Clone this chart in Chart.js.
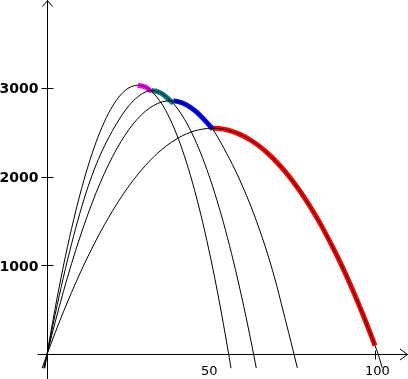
<!DOCTYPE html>
<html><head><meta charset="utf-8">
<script src="https://cdn.jsdelivr.net/npm/chart.js@4"></script>
<style>html,body{margin:0;padding:0;background:#fff;overflow:hidden}canvas{display:block}</style>
</head><body>
<canvas id="c" width="408" height="379" style="width:408px;height:379px"></canvas>
<script>
// Trajectory A (highest)
const xA = [-0.7, 0, 2.5, 5, 7.5, 10, 12.5, 15, 17.5, 20, 22.5, 25, 27.7, 30, 31.9, 35, 37.5, 40, 42.5, 45, 47.5, 50, 52.5, 55, 56.1];
const yA = [-155, 0, 523, 997, 1421, 1796, 2121, 2397, 2623, 2800, 2928, 3006, 3035, 3014, 2965, 2824, 2655, 2436, 2168, 1851, 1484, 1068, 602, 87, -155];
// Trajectory B
const xB = [-0.85, 0, 2.5, 5, 7.5, 10, 12.5, 15, 17.5, 20, 22.5, 25, 27.5, 30, 31.9, 33, 35, 38.5, 42, 45, 47.5, 50, 52.5, 55, 57.5, 60, 62.5, 63, 63.8];
const yB = [-155, 0, 454, 870, 1249, 1590, 1890, 2140, 2349, 2525, 2679, 2805, 2899, 2958, 2975, 2970, 2940, 2830, 2646, 2430, 2209, 1950, 1654, 1320, 949, 540, 94, 0, -153];
// Trajectory C
const xC = [-1.0, 0, 2.5, 5, 7.5, 10, 12.5, 15, 17.5, 20, 22.5, 25, 27.5, 30, 32.5, 35, 37.65, 38.5, 40, 42.5, 45, 47.5, 50.5, 53.8, 56.5, 58.8, 62.9, 66.5, 69.5, 72, 75.3, 76.3];
const yC = [-154, 0, 367, 709, 1026, 1317, 1584, 1825, 2041, 2232, 2397, 2537, 2652, 2742, 2806, 2846, 2860, 2858, 2849, 2813, 2751, 2664, 2540, 2334, 2143, 1965, 1600, 1220, 850, 490, 5, -150];
// Trajectory D (longest)
const xD = [-1.5, 0, 2.5, 5, 7.5, 10, 12.5, 15, 17.5, 20, 22.5, 25, 27.5, 30, 32.5, 35, 37.5, 40, 42.5, 45, 47.5, 50.5, 52.5, 55, 57.5, 60, 62.5, 65, 67.5, 70, 72.5, 75, 77.5, 80, 82.5, 85, 87.5, 90, 92.5, 95, 97.5, 100, 101, 102.2];
const yD = [-154, 0, 246, 480, 701, 910, 1106, 1290, 1461, 1620, 1766, 1900, 2021, 2130, 2226, 2310, 2381, 2440, 2486, 2520, 2541, 2550, 2546, 2530, 2501, 2460, 2406, 2340, 2261, 2170, 2066, 1950, 1821, 1680, 1526, 1360, 1181, 990, 786, 570, 341, 100, 0, -150];
// Upper envelope pieces (x ranges on A, B, C, D)
const envelopeFrom = [27.7, 31.9, 38.5, 50.5];
const envelopeTo   = [31.9, 38.5, 50.5, 100];
// Axis labels
const yTicks = [1000, 2000, 3000];
const xTicks = [50, 100];
const xTickMarks = [100];

function pts(xs, ys) { return xs.map((x, i) => ({x: x, y: ys[i]})); }
const curves = [pts(xA, yA), pts(xB, yB), pts(xC, yC), pts(xD, yD)];
const envColors = ['#ff00ff', '#008080', '#0000ff', '#ff0000'];

const datasets = [];
curves.forEach(c => datasets.push({
  data: c, borderColor: '#000', borderWidth: 1, order: 0, pointRadius: 0,
  showLine: true, cubicInterpolationMode: 'monotone', fill: false
}));
curves.forEach((c, i) => datasets.push({
  data: c.filter(p => p.x >= envelopeFrom[i] - 1e-9 && p.x <= envelopeTo[i] + 1e-9),
  borderColor: envColors[i], borderWidth: 5, order: 1, pointRadius: 0,
  showLine: true, cubicInterpolationMode: 'monotone', fill: false,
  borderCapStyle: 'butt'
}));

const axesPlugin = {
  id: 'axes',
  beforeDatasetsDraw(chart) {
    const ctx = chart.ctx, xs = chart.scales.x, ys = chart.scales.y;
    const W = chart.width, H = chart.height;
    const x0 = Math.floor(xs.getPixelForValue(0)) + 0.5;
    const y0 = Math.floor(ys.getPixelForValue(0)) + 0.5;
    ctx.save();
    ctx.strokeStyle = '#000';
    ctx.lineWidth = 1;
    ctx.beginPath();
    ctx.moveTo(x0, H); ctx.lineTo(x0, 0.5);
    ctx.moveTo(x0 - 10, y0); ctx.lineTo(W, y0);
    ctx.moveTo(x0 - 5, 6.5); ctx.lineTo(x0, 0.5); ctx.lineTo(x0 + 5, 6.5);
    ctx.moveTo(W - 8, y0 - 5.5); ctx.lineTo(W - 0.5, y0); ctx.lineTo(W - 8, y0 + 5.5);
    yTicks.forEach(v => {
      const py = Math.floor(ys.getPixelForValue(v)) + 0.5;
      ctx.moveTo(x0 - 6, py); ctx.lineTo(x0 + 6, py);
    });
    xTickMarks.forEach(v => {
      const px = Math.floor(xs.getPixelForValue(v)) + 0.5;
      ctx.moveTo(px, y0 - 4); ctx.lineTo(px, y0 + 5);
    });
    ctx.stroke();
    ctx.fillStyle = '#000';
    ctx.font = 'bold 14px "DejaVu Sans"';
    ctx.textAlign = 'right';
    ctx.textBaseline = 'alphabetic';
    yTicks.forEach(v => {
      const py = Math.round(ys.getPixelForValue(v));
      ctx.fillText(String(v), 38.5, py + 5);
    });
    ctx.font = '13px "DejaVu Sans"';
    ctx.textAlign = 'left';
    xTicks.forEach(v => {
      const px = xs.getPixelForValue(v);
      ctx.fillText(String(v), px - 10, y0 + 20.5);
    });
    ctx.restore();
  }
};

new Chart(document.getElementById('c'), {
  type: 'scatter',
  data: { datasets: datasets },
  options: {
    responsive: false,
    devicePixelRatio: 1,
    animation: false,
    layout: { padding: 0 },
    plugins: { legend: { display: false }, tooltip: { enabled: false } },
    elements: { point: { radius: 0 } },
    scales: {
      x: { type: 'linear', display: false, min: -14.33, max: 110.06, bounds: 'data' },
      y: { type: 'linear', display: false, min: -276.1, max: 3995.3, bounds: 'data' }
    }
  },
  plugins: [axesPlugin]
});
</script>
</body></html>
